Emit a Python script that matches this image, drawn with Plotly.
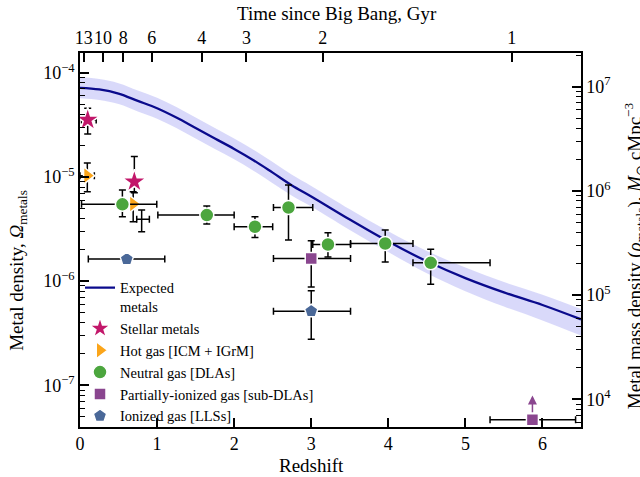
import numpy as np
import plotly.graph_objects as go

# ---------------- data ----------------
# Expected metals model (Omega_metals vs redshift) with uncertainty band
z_model = [0, 0.25, 0.5, 0.75, 1.0, 1.25, 1.5, 1.75, 2.0, 2.25, 2.5, 2.75, 3.0, 3.5, 4.0, 4.5, 5.0, 5.5, 6.0, 6.5]
omega_model = [7.18e-5, 6.92e-5, 6.31e-5, 5.37e-5, 4.57e-5, 3.72e-5, 2.95e-5, 2.34e-5, 1.86e-5, 1.45e-5,
               1.10e-5, 8.3e-6, 6.5e-6, 3.9e-6, 2.4e-6, 1.55e-6, 1.07e-6, 7.8e-7, 5.9e-7, 4.3e-7]
omega_model_hi = [9.05e-5, 8.72e-5, 7.95e-5, 6.77e-5, 5.76e-5, 4.69e-5, 3.72e-5, 2.95e-5, 2.34e-5, 1.83e-5,
                  1.39e-5, 1.05e-5, 8.2e-6, 4.9e-6, 3.02e-6, 1.95e-6, 1.35e-6, 9.8e-7, 7.4e-7, 5.4e-7]
omega_model_lo = [5.70e-5, 5.49e-5, 5.01e-5, 4.26e-5, 3.63e-5, 2.95e-5, 2.34e-5, 1.86e-5, 1.48e-5, 1.15e-5,
                  8.7e-6, 6.6e-6, 5.2e-6, 3.1e-6, 1.9e-6, 1.19e-6, 8.0e-7, 5.7e-7, 4.2e-7, 3.0e-7]

# Stellar metals
star_z = [0.10, 0.705]
star_zlo = [0.02, None]
star_zhi = [0.21, None]
star_val = [3.53e-5, 9.0e-6]
star_lo = [2.59e-5, 7.06e-6]
star_hi = [4.57e-5, 1.57e-5]

# Hot gas [ICM + IGrM]
hot_z = [0.095, 0.69]
hot_zlo = [0.0, None]
hot_zhi = [0.186, None]
hot_val = [1.03e-5, 5.5e-6]
hot_lo = [7.2e-6, 3.72e-6]
hot_hi = [1.36e-5, 7.2e-6]

# additional hot-gas estimate shown with error bars only
hot2_z = [0.80]
hot2_zlo = [0.736]
hot2_zhi = [0.90]
hot2_val = [3.92e-6]
hot2_lo = [2.98e-6]
hot2_hi = [4.82e-6]

# Neutral gas [DLAs]
dla_z = [0.55, 1.645, 2.27, 2.705, 3.217, 3.96, 4.55]
dla_zlo = [0.02, 1.01, 2.0, 2.51, 3.02, 3.51, 4.32]
dla_zhi = [0.996, 2.0, 2.5, 3.02, 3.51, 4.32, 5.32]
dla_val = [5.46e-6, 4.31e-6, 3.33e-6, 5.09e-6, 2.25e-6, 2.30e-6, 1.50e-6]
dla_lo = [4.15e-6, 3.53e-6, 2.63e-6, 2.48e-6, 1.71e-6, 1.53e-6, 9.35e-7]
dla_hi = [7.5e-6, 5.26e-6, 4.15e-6, 8.37e-6, 2.91e-6, 3.09e-6, 2.02e-6]

# Partially-ionized gas [sub-DLAs]
sub_z = [3.0, 5.87]
sub_zlo = [2.51, 5.32]
sub_zhi = [3.51, 6.43]
sub_val = [1.65e-6, 4.68e-8]
sub_lo = [8.8e-7, None]
sub_hi = [2.44e-6, None]
sub_limit_tip = [None, 8.0e-8]   # lower limit arrow

# Ionized gas [LLSs]
lls_z = [0.607, 3.0]
lls_zlo = [0.108, 2.51]
lls_zhi = [1.10, 3.51]
lls_val = [1.63e-6, 5.15e-7]
lls_lo = [None, 2.77e-7]
lls_hi = [None, 8.07e-7]

# top axis: time since Big Bang (Gyr) at redshift
age_labels = ["13", "10", "8", "6", "4", "3", "2", "1"]
age_z = [0.05, 0.30, 0.56, 0.93, 1.58, 2.16, 3.15, 5.6]

# conversion Omega -> rho (Msun cMpc^-3)
rho_factor = 1.36e11

bottom_ticks = [0, 1, 2, 3, 4, 5, 6]
left_ticks = [1e-7, 1e-6, 1e-5, 1e-4]
left_ticktext = ["10<sup>\u22127</sup>", "10<sup>\u22126</sup>", "10<sup>\u22125</sup>", "10<sup>\u22124</sup>"]
right_ticks = [1e4, 1e5, 1e6, 1e7]
right_ticktext = ["10<sup>4</sup>", "10<sup>5</sup>", "10<sup>6</sup>", "10<sup>7</sup>"]

# ---------------- helpers ----------------
def diffs(center, bound, upper):
    out = []
    for c, b in zip(center, bound):
        if b is None:
            out.append(None)
        else:
            out.append(b - c if upper else c - b)
    return out


def points(name, z, zlo, zhi, v, vlo, vhi, symbol, color, size, showlegend=True, marker_visible=True):
    return go.Scatter(
        x=z, y=v, mode="markers", name=name, showlegend=showlegend,
        marker=dict(symbol=symbol, color=color, size=size,
                    line=dict(color="white", width=1.5),
                    opacity=1 if marker_visible else 0),
        error_x=dict(type="data", symmetric=False,
                     array=diffs(z, zhi, True), arrayminus=diffs(z, zlo, False),
                     color="black", thickness=1.5, width=3.5),
        error_y=dict(type="data", symmetric=False,
                     array=diffs(v, vhi, True), arrayminus=diffs(v, vlo, False),
                     color="black", thickness=1.5, width=3.5),
    )


col_star = "#c2176a"
col_hot = "#fba51a"
col_dla = "#4ca63e"
col_sub = "#8a468f"
col_lls = "#4a6898"
col_model = "#0a0a8c"
col_band = "rgba(130,130,240,0.30)"

fig = go.Figure()

# model band
fig.add_trace(go.Scatter(x=z_model, y=omega_model_hi, mode="lines", line=dict(width=0, shape="spline"),
                         showlegend=False, hoverinfo="skip"))
fig.add_trace(go.Scatter(x=z_model, y=omega_model_lo, mode="lines", line=dict(width=0, shape="spline"),
                         fill="tonexty", fillcolor=col_band, showlegend=False, hoverinfo="skip"))
fig.add_trace(go.Scatter(x=z_model, y=omega_model, mode="lines", name="Expected<br>metals",
                         line=dict(color=col_model, width=2.3, shape="spline")))

fig.add_trace(points("Stellar metals", star_z, star_zlo, star_zhi, star_val, star_lo, star_hi,
                     "star", col_star, 18))
fig.add_trace(points("Hot gas [ICM + IGrM]", hot_z, hot_zlo, hot_zhi, hot_val, hot_lo, hot_hi,
                     "triangle-right", col_hot, 15))
fig.add_trace(points("hot2", hot2_z, hot2_zlo, hot2_zhi, hot2_val, hot2_lo, hot2_hi,
                     "circle", col_hot, 2, showlegend=False, marker_visible=False))
fig.add_trace(points("Neutral gas [DLAs]", dla_z, dla_zlo, dla_zhi, dla_val, dla_lo, dla_hi,
                     "circle", col_dla, 14))
fig.add_trace(points("Partially-ionized gas [sub-DLAs]", sub_z, sub_zlo, sub_zhi, sub_val, sub_lo, sub_hi,
                     "square", col_sub, 12))
fig.add_trace(points("Ionized gas [LLSs]", lls_z, lls_zlo, lls_zhi, lls_val, lls_lo, lls_hi,
                     "pentagon", col_lls, 14))

# invisible trace to attach the top / right axes
fig.add_trace(go.Scatter(x=[None], y=[None], xaxis="x2", yaxis="y2", showlegend=False, hoverinfo="skip"))

# lower-limit arrow
for zz, vv, tip in zip(sub_z, sub_val, sub_limit_tip):
    if tip is not None:
        fig.add_annotation(x=zz, y=np.log10(tip), ax=zz, ay=np.log10(vv), xref="x", yref="y",
                           axref="x", ayref="y", showarrow=True, arrowhead=2, arrowsize=1.2,
                           arrowwidth=1.5, arrowcolor=col_sub, startstandoff=6, text="")

y_lo, y_hi = -7.40, -3.81
minor_left = [m * 10.0 ** d for d in range(-8, -3) for m in range(2, 10)]
minor_right = [m * 10.0 ** d for d in range(3, 8) for m in range(2, 10)]

axis_common = dict(showline=True, linecolor="black", linewidth=1.5, ticks="inside", ticklen=9,
                   tickwidth=1.5, tickcolor="black", showgrid=False, zeroline=False, tickangle=0)

fig.update_layout(
    width=640, height=477,
    margin=dict(l=80, r=59, t=53, b=50),
    plot_bgcolor="white", paper_bgcolor="white",
    font=dict(family="Liberation Serif", size=18, color="black"),
    xaxis=dict(range=[0, 6.5], tickvals=bottom_ticks, **axis_common),
    xaxis2=dict(range=[0, 6.5], overlaying="x", side="top", tickvals=age_z, ticktext=age_labels,
                anchor="y", **axis_common),
    yaxis=dict(type="log", range=[y_lo, y_hi], tickvals=left_ticks, ticktext=left_ticktext,
               minor=dict(tickvals=minor_left, ticks="inside", ticklen=5, tickwidth=1.2, tickcolor="black"),
               **axis_common),
    yaxis2=dict(type="log", overlaying="y", side="right", anchor="x",
                range=[y_lo + np.log10(rho_factor), y_hi + np.log10(rho_factor)],
                tickvals=right_ticks, ticktext=right_ticktext,
                minor=dict(tickvals=minor_right, ticks="inside", ticklen=5, tickwidth=1.2, tickcolor="black"),
                **axis_common),
    legend=dict(x=0.0, y=0.415, xanchor="left", yanchor="top", bgcolor="rgba(0,0,0,0)",
                font=dict(size=14.5), valign="top", tracegroupgap=0, itemwidth=30,
                traceorder="normal"),
)

# axis titles
fig.add_annotation(text="Redshift", xref="paper", yref="paper", x=0.463, y=-0.102,
                   showarrow=False, font=dict(size=19), xanchor="center", yanchor="middle")
fig.add_annotation(text="Time since Big Bang, Gyr", xref="paper", yref="paper", x=0.513, y=1.105,
                   showarrow=False, font=dict(size=19), xanchor="center", yanchor="middle")
fig.add_annotation(text="Metal density, <i>\u03a9</i><sub>metals</sub>", xref="paper", yref="paper",
                   x=-0.124, y=0.42, textangle=-90, showarrow=False, font=dict(size=19),
                   xanchor="center", yanchor="middle")
fig.add_annotation(text="Metal mass density (<i>\u03c1</i><sub>metals</sub>), <i>M</i><sub>\u2299</sub> cMpc<sup>\u22123</sup>",
                   xref="paper", yref="paper", x=1.106, y=0.457, textangle=-90, showarrow=False,
                   font=dict(size=19), xanchor="center", yanchor="middle")

fig.write_html("out.html")
